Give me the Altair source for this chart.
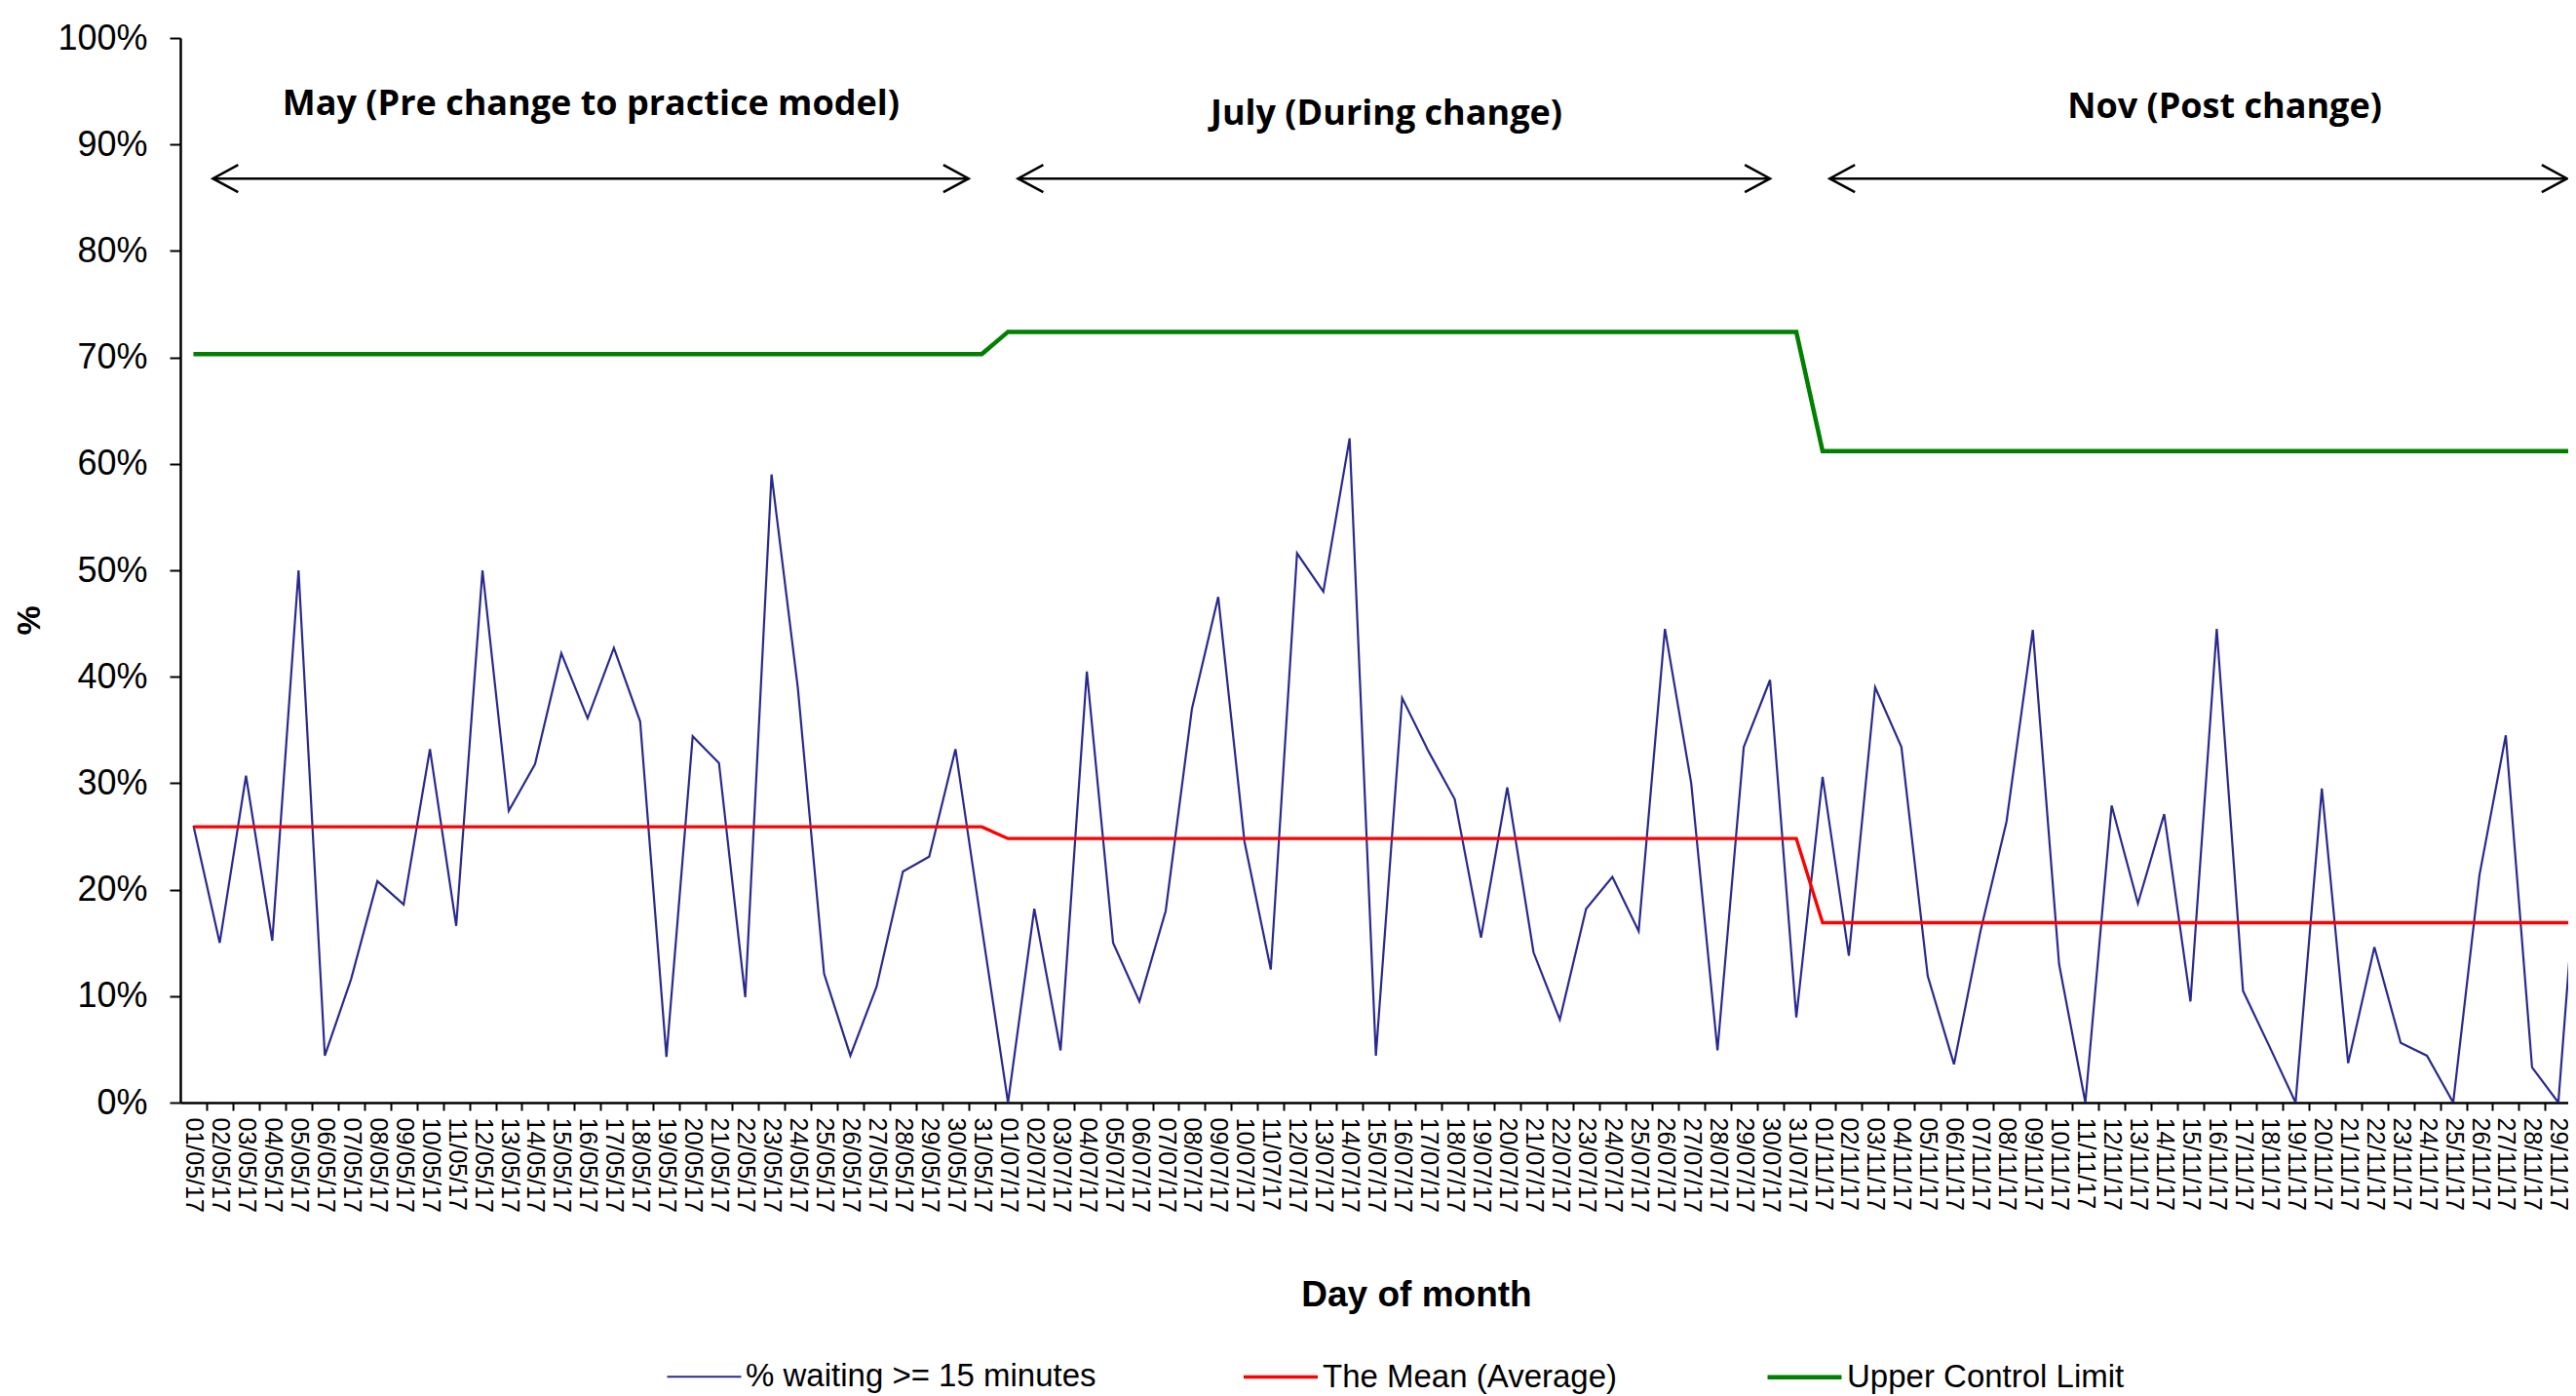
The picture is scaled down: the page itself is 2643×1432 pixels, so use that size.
import json
import altair as alt
import pandas as pd

# ---------------- data ----------------
month_codes = ["05", "07", "11"]
month_days = [31, 31, 30]
date_labels = [f"{d:02d}/{m}/17" for m, n in zip(month_codes, month_days) for d in range(1, n + 1)]

pct_may = [26.0, 15.0, 30.7, 15.2, 50.0, 4.4, 11.6, 20.8, 18.6, 33.2,
           16.6, 50.0, 27.4, 31.8, 42.2, 36.1, 42.7, 35.8, 4.3, 34.4,
           31.9, 9.9, 59.0, 39.0, 12.1, 4.4, 10.9, 21.7, 23.1, 33.2, 16.5]
pct_jul = [0.0, 18.2, 4.9, 40.5, 15.0, 9.5, 18.0, 37.0, 47.5, 24.5,
           12.5, 51.6, 48.0, 62.4, 4.4, 38.0, 33.0, 28.5, 15.5, 29.6,
           14.1, 7.8, 18.2, 21.2, 16.1, 44.5, 30.0, 4.9, 33.4, 39.7, 8.0]
pct_nov = [30.6, 13.8, 39.0, 33.4, 11.9, 3.6, 16.0, 26.4, 44.4, 13.0,
           0.0, 27.9, 18.7, 27.1, 9.5, 44.5, 10.5, 5.3, 0.0, 29.5,
           3.7, 14.6, 5.6, 4.4, 0.0, 21.4, 34.5, 3.3, 0.0, 32.0]
period_mean = [25.9, 24.8, 16.9]
period_ucl = [70.3, 72.4, 61.2]

series_names = ["% waiting >= 15 minutes", "The Mean (Average)", "Upper Control Limit"]
series_colors = ["#2A2A8E", "#FF0000", "#008000"]
series_widths = [2.2, 4.5, 4.5]

ann_text = ["May (Pre change to practice model)", "July (During change)", "Nov (Post change)"]
ann_x = [15.13, 45.4, 77.3]
ann_y = [0.938, 0.929, 0.935]
arrow_start = [0.74, 31.38, 62.27]
arrow_end = [29.5, 60.0, 90.33]
arrow_y = [0.868, 0.868, 0.868]

# ---------------- tables ----------------
rows = []
idx = 0
for p, vals in enumerate([pct_may, pct_jul, pct_nov]):
    for v in vals:
        lab = date_labels[idx]
        rows.append({"idx": idx, "label": lab, "series": series_names[0], "value": v / 100})
        rows.append({"idx": idx, "label": lab, "series": series_names[1], "value": period_mean[p] / 100})
        rows.append({"idx": idx, "label": lab, "series": series_names[2], "value": period_ucl[p] / 100})
        idx += 1
df = pd.DataFrame(rows)

ann_df = pd.DataFrame({"idx": ann_x, "value": ann_y, "text": ann_text})
arr_df = pd.DataFrame({"idx": arrow_start, "idx2": arrow_end, "value": arrow_y})

# ---------------- geometry ----------------
W = 2450
H = 1092
STEP = 26.96
XMAX = -0.5 + W / STEP
HALF = STEP / 2

xscale = alt.Scale(domain=[-0.5, XMAX], nice=False, zero=False)
yscale = alt.Scale(domain=[0, 1], nice=False, zero=False)

FONT = "Liberation Sans"

xaxis = alt.Axis(
    values=list(range(91)),
    labelExpr=json.dumps(date_labels) + "[datum.value]",
    labelAngle=90, labelAlign="left", labelBaseline="middle",
    labelOverlap=False, labelFlush=False,
    tickOffset=HALF, labelOffset=-HALF,
    labelFont=FONT, labelFontSize=25, labelPadding=7, labelColor="black",
    tickSize=8, tickWidth=2, tickColor="black",
    domainColor="black", domainWidth=2.5,
    grid=False,
    title="Day of month", titleFont=FONT, titleFontSize=37, titleFontWeight="bold",
    titleColor="black", titleX=1268, titleY=197, titleBaseline="middle", titleAlign="center",
)
yaxis = alt.Axis(
    values=[i / 10 for i in range(11)], format=".0%",
    labelFont=FONT, labelFontSize=36, labelPadding=23, labelColor="black",
    tickSize=11, tickWidth=2, tickColor="black",
    domainColor="black", domainWidth=2.5, grid=False,
    title="%", titleFont=FONT, titleFontSize=34, titleFontWeight="bold", titleColor="black",
    titleX=-155, titleY=597, titleAngle=270, titleAlign="center", titleBaseline="middle",
)

legend = alt.Legend(
    orient="none", legendX=498, legendY=1333, direction="horizontal", title=None,
    symbolType="stroke", symbolSize=5776, labelFont=FONT, labelFontSize=33,
    labelColor="black", labelOffset=3, columnPadding=144, padding=0, labelLimit=2000,
)

def X(field):
    return alt.X(field, scale=xscale, axis=xaxis)

def Y(field):
    return alt.Y(field, scale=yscale, axis=yaxis)

lines = alt.Chart(df).mark_line(clip=True).encode(
    x=X("idx:Q"),
    y=Y("value:Q"),
    color=alt.Color("series:N", scale=alt.Scale(domain=series_names, range=series_colors), legend=legend),
    strokeWidth=alt.StrokeWidth("series:N", scale=alt.Scale(domain=series_names, range=series_widths), legend=legend),
    order=alt.Order("idx:Q"),
)

shafts = alt.Chart(arr_df).mark_rule(color="black", strokeWidth=2.5, clip=True).encode(
    x=X("idx:Q"),
    x2="idx2:Q",
    y=Y("value:Q"),
)

LEFT_HEAD = "M1.85,-1L0,0L1.85,1"
RIGHT_HEAD = "M-1.85,-1L0,0L-1.85,1"
heads_left = alt.Chart(arr_df).mark_point(
    shape=LEFT_HEAD, size=784, filled=False, strokeWidth=2.5, color="black", opacity=1, clip=True
).encode(x=X("idx:Q"), y=Y("value:Q"))
heads_right = alt.Chart(arr_df).mark_point(
    shape=RIGHT_HEAD, size=784, filled=False, strokeWidth=2.5, color="black", opacity=1, clip=True
).encode(x=X("idx2:Q"), y=Y("value:Q"))

texts = alt.Chart(ann_df).mark_text(
    font="Open Sans", fontWeight="bold", fontSize=36, color="black", align="center", baseline="middle"
).encode(x=X("idx:Q"), y=Y("value:Q"), text="text:N")

chart = alt.layer(lines, shafts, heads_left, heads_right, texts).properties(
    width=W, height=H,
    autosize=alt.AutoSizeParams(type="none"),
    padding={"left": 177, "top": 31, "right": 0, "bottom": 299},
).configure(background="white").configure_view(stroke=None)

chart.save("out.html", embed_options={"renderer": "svg", "actions": False})
